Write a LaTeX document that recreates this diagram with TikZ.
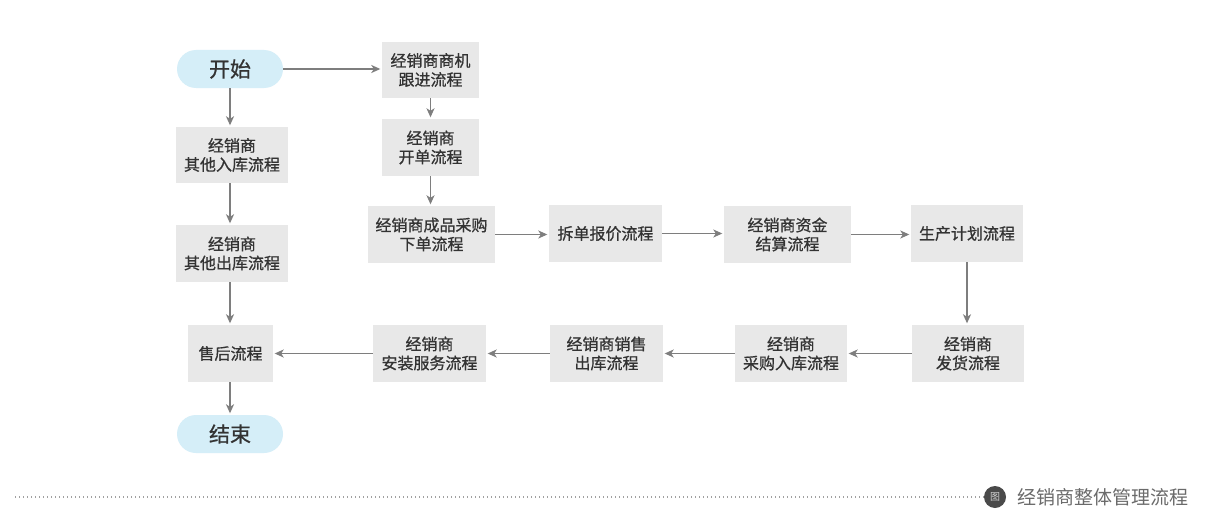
\documentclass[tikz,border=0pt]{standalone}
\usepackage{fontspec}
\setmainfont{Noto Sans CJK SC}
\newfontfamily\medfont{Noto Sans CJK SC}[FakeBold=0.8]
\usetikzlibrary{arrows.meta,positioning}
\definecolor{boxfill}{HTML}{E8E8E8}
\definecolor{pillfill}{HTML}{D5EEF8}
\definecolor{txt}{HTML}{333333}
\definecolor{lin}{HTML}{7E7E7E}
\definecolor{cap}{HTML}{6A6A6A}
\definecolor{dots}{HTML}{A0A0A0}
\definecolor{icon}{HTML}{4A4A4A}
\tikzset{
  procbox/.style={fill=boxfill, draw=none, text=txt, align=center, inner sep=0pt,
    minimum height=57pt, font=\medfont\fontsize{16}{19}\selectfont},
  pill/.style={fill=pillfill, draw=none, text=txt, rounded corners=19pt, inner sep=0pt,
    minimum width=106pt, minimum height=38pt, font=\medfont\fontsize{21}{24}\selectfont},
  flow/.style={draw=lin, line width=1.3pt, -{Stealth[length=9pt,width=8pt,inset=2.5pt]}, shorten >=1.5pt}
}
\begin{document}
\begin{tikzpicture}[x=1pt,y=-1pt]
\useasboundingbox[fill=white] (0,0) rectangle (1210,527);

\node[pill] (start) at (230,69) {开始};
\node[pill] (end) at (230,434) {结束};

\node[procbox, minimum width=97pt, minimum height=56pt] (shangji) at (430.5,70) {经销商商机\\跟进流程};
\node[procbox, minimum width=97pt] (kaidan) at (430.5,147.5) {经销商\\开单流程};
\node[procbox, minimum width=112pt, minimum height=56pt] (ruku) at (232,155) {经销商\\其他入库流程};
\node[procbox, minimum width=112pt] (chuku) at (232,253.5) {经销商\\其他出库流程};
\node[procbox, minimum width=127pt] (caigou) at (431.5,234.5) {经销商成品采购\\下单流程};
\node[procbox, minimum width=113pt] (chaidan) at (605.5,233.5) {拆单报价流程};
\node[procbox, minimum width=127pt] (zijin) at (787.5,234.5) {经销商资金\\结算流程};
\node[procbox, minimum width=112pt] (shengchan) at (967,233.5) {生产计划流程};
\node[procbox, minimum width=112pt] (fahuo) at (968,353.5) {经销商\\发货流程};
\node[procbox, minimum width=112pt] (rukucg) at (791,353.5) {经销商\\采购入库流程};
\node[procbox, minimum width=113pt] (xiaoshou) at (606.5,353.5) {经销商销售\\出库流程};
\node[procbox, minimum width=113pt] (anzhuang) at (429.5,353.5) {经销商\\安装服务流程};
\node[procbox, minimum width=85pt] (shouhou) at (230.5,353.5) {售后流程};

\draw[flow] (start.east) -- (start.east -| shangji.west);
\draw[flow] (start.south) -- (start |- ruku.north);
\draw[flow] (start |- ruku.south) -- (start |- chuku.north);
\draw[flow] (start |- chuku.south) -- (start |- shouhou.north);
\draw[flow] (start |- shouhou.south) -- (end.north);
\draw[flow] (shangji.south) -- (kaidan.north);
\draw[flow] (kaidan.south) -- (kaidan.south |- caigou.north);
\draw[flow] (caigou.east) -- (caigou.east -| chaidan.west);
\draw[flow] (chaidan.east) -- (chaidan.east -| zijin.west);
\draw[flow] (zijin.east) -- (zijin.east -| shengchan.west);
\draw[flow] (shengchan.south) -- (shengchan.south |- fahuo.north);
\draw[flow] (fahuo.west) -- (rukucg.east);
\draw[flow] (rukucg.west) -- (xiaoshou.east);
\draw[flow] (xiaoshou.west) -- (anzhuang.east);
\draw[flow] (anzhuang.west) -- (shouhou.east);

\coordinate (dotl) at (15,497);
\node[circle, fill=icon, minimum size=22pt, inner sep=0pt, text=boxfill!85!icon, font=\fontsize{10}{11}\selectfont] (icn) at (995,497) {图};
\draw[dots, line width=1.3pt, dash pattern=on 1.3pt off 2.7pt] (dotl) -- (icn.west);
\node[anchor=west, text=cap, font=\fontsize{19}{21}\selectfont, inner sep=0pt] (caption) at (1017,497) {经销商整体管理流程};
\end{tikzpicture}
\end{document}
